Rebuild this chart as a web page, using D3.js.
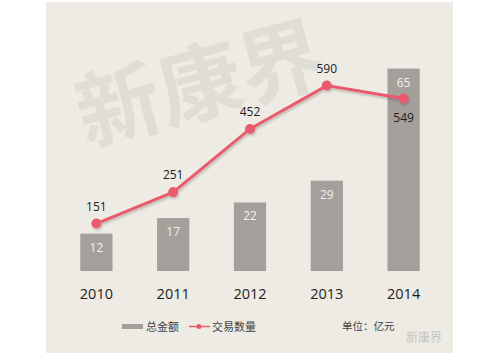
<!DOCTYPE html>
<html><head><meta charset="utf-8">
<script src="https://cdn.jsdelivr.net/npm/d3@7"></script>
<style>body{margin:0;background:#fff}svg{display:block}</style>
</head><body>
<svg id="c" width="500" height="356"></svg>
<script>
const years = ["2010","2011","2012","2013","2014"];
const totalAmount = [12,17,22,29,65];
const tradeCount = [151,251,452,590,549];
const legendLabels = ["总金额","交易数量"];
const unitLabel = "单位：亿元";

const svg = d3.select("#c");
const font = "'Open Sans','Noto Sans CJK SC',sans-serif";
svg.append("rect").attr("x",46).attr("y",2).attr("width",407).attr("height",351).attr("fill","#edebe3");

// watermark
svg.append("text").attr("transform","translate(86,146) rotate(-15)")
  .attr("font-family","'Noto Sans CJK SC'").attr("font-size",84).attr("font-weight",700)
  .attr("fill","#dfddd6").text("新康界");

const x = d3.scaleBand().domain(years).range([58,442]).paddingInner(0.58).paddingOuter(0.29);
const yBar = d3.scaleLinear().domain([0,70]).range([271,53]);
const yLine = d3.scaleLinear().domain([0,700]).range([271,51]);

svg.append("g").selectAll("rect").data(years).join("rect")
  .attr("x",d=>x(d)).attr("width",x.bandwidth())
  .attr("y",(d,i)=>yBar(totalAmount[i])).attr("height",(d,i)=>yBar(0)-yBar(totalAmount[i]))
  .attr("fill","#a59f9b");
svg.append("g").selectAll("text").data(years).join("text")
  .attr("x",d=>x(d)+x.bandwidth()/2).attr("y",(d,i)=>yBar(totalAmount[i])+18)
  .attr("text-anchor","middle").attr("font-family",font).attr("font-size",12)
  .attr("fill","#f2efee").text((d,i)=>totalAmount[i]);

const cx = d=>x(d)+x.bandwidth()/2;
const line = d3.line().x((d,i)=>cx(years[i])).y(d=>yLine(d));
const defs = svg.append("defs");
const f = defs.append("filter").attr("id","sh").attr("x","-10%").attr("y","-10%").attr("width","130%").attr("height","140%");
f.append("feDropShadow").attr("dx",1).attr("dy",2).attr("stdDeviation",1.2).attr("flood-color","#000").attr("flood-opacity",0.2);
const lg = svg.append("g").attr("filter","url(#sh)");
lg.append("path").datum(tradeCount).attr("d",line).attr("fill","none").attr("stroke","#e95a6e").attr("stroke-width",3);
lg.selectAll("circle").data(tradeCount).join("circle")
  .attr("cx",(d,i)=>cx(years[i])).attr("cy",d=>yLine(d)).attr("r",5).attr("fill","#e95a6e");

svg.append("g").selectAll("text").data(tradeCount).join("text")
  .attr("x",(d,i)=>cx(years[i])).attr("y",(d,i)=>i===4?yLine(d)+24:yLine(d)-13)
  .attr("text-anchor","middle").attr("font-family",font).attr("font-size",12)
  .attr("fill","#222").text(d=>d);

// x axis labels
const xAxis = d3.axisBottom(x).tickSize(0).tickPadding(0);
const ag = svg.append("g").attr("transform","translate(0,289)").call(xAxis);
ag.select(".domain").remove();
ag.selectAll("text").attr("font-family",font).attr("font-size",14.5).attr("font-weight",500).attr("fill","#1e1e1e").attr("dy","0.71em");

// legend
const leg = svg.append("g").attr("font-family","'Noto Sans CJK SC',sans-serif").attr("font-size",11).attr("fill","#444");
leg.append("rect").attr("x",122).attr("y",324).attr("width",21).attr("height",5).attr("fill","#a59f9b");
leg.append("text").attr("x",146).attr("y",331).text(legendLabels[0]);
leg.append("line").attr("x1",189).attr("x2",210).attr("y1",326.5).attr("y2",326.5).attr("stroke","#e95a6e").attr("stroke-width",1.5);
leg.append("circle").attr("cx",199).attr("cy",326.5).attr("r",2.5).attr("fill","#e95a6e");
leg.append("text").attr("x",212).attr("y",331).text(legendLabels[1]);
leg.append("text").attr("x",342).attr("y",330).attr("font-size",10.5).text(unitLabel);
svg.append("text").attr("x",406).attr("y",342).attr("font-family","'Noto Sans CJK SC',sans-serif").attr("font-size",12).attr("fill","#c8c6c2").text("新康界");
</script>
</body></html>
